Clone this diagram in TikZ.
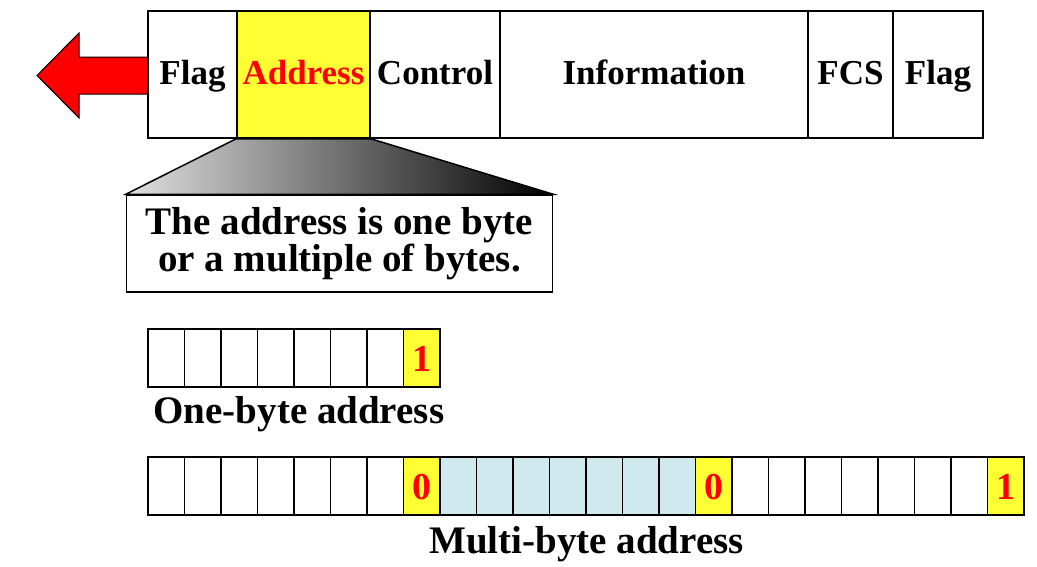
\documentclass[tikz,border=0pt]{standalone}
\usepackage{fontspec}
\setmainfont{Liberation Serif}
\usepackage{xcolor}
\usepackage{tikz}
\definecolor{hiyellow}{HTML}{FFFF33}
\definecolor{hired}{HTML}{FF0000}
\definecolor{hiblue}{HTML}{CFE9EF}

\begin{document}
\begin{tikzpicture}[x=1pt,y=-1pt,
    field/.style={draw, line width=1.5pt, inner sep=0pt, minimum height=127pt,
        text height=26pt, text depth=6pt,
        font=\fontsize{35}{40}\selectfont\bfseries},
    cell/.style={draw, line width=1.5pt, inner sep=0pt, minimum width=36.5pt,
        minimum height=58pt, text height=26pt, text depth=0pt,
        font=\fontsize{38}{40}\selectfont\bfseries, text=hired},
    bigtext/.style={font=\fontsize{39}{35}\selectfont\bfseries}]
        \useasboundingbox (0,0) rectangle (1037,566);
        % arrow out of the frame
        \draw[fill=hired, line width=1pt, line join=miter] (148,57) -- (79,57) -- (79,33) -- (37,75.5)
            -- (79,118) -- (79,94) -- (148,94);
        % the frame
        \node[field, minimum width=89pt] (flagA) at (192.5,74.5) {Flag};
        \node[field, minimum width=133pt, fill=hiyellow, text=hired] (addr) at (303.5,74.5) {Address};
        \node[field, minimum width=130pt] (ctrl) at (435,74.5) {Control};
        \node[field, minimum width=308pt] (info) at (654,74.5) {Information};
        \node[field, minimum width=85pt] (fcs) at (850.5,74.5) {FCS};
        \node[field, minimum width=90pt] (flagB) at (938,74.5) {Flag};
        % note under the address field
        \node[draw, line width=1.5pt, minimum width=426pt, minimum height=97pt, align=center,
            bigtext] (note) at (339.5,243.5) {The address is one byte\\or a multiple of bytes.};
        \shadedraw[left color=white!88!black, right color=black, line width=1.5pt]
            (addr.south west) -- (addr.south east) -- (note.north east) -- (note.north west) -- cycle;
        % one-byte address
        \foreach \i in {0,...,6}
            \node[cell] (one\i) at (166.25+36.5*\i,358) {};
        \node[cell, fill=hiyellow] (one7) at (166.25+36.5*7,358) {1};
        \node[bigtext, anchor=base west] (onelbl) at (150,423) {One-byte address};
        % multi-byte address
        \foreach \i in {0,...,6,16,17,...,22}
            \node[cell] (multi\i) at (166.25+36.5*\i,486) {};
        \foreach \i in {8,...,14}
            \node[cell, fill=hiblue] (multi\i) at (166.25+36.5*\i,486) {};
        \node[cell, fill=hiyellow] (multi7) at (166.25+36.5*7,486) {0};
        \node[cell, fill=hiyellow] (multi15) at (166.25+36.5*15,486) {0};
        \node[cell, fill=hiyellow] (multi23) at (166.25+36.5*23,486) {1};
        \node[bigtext, anchor=base] (multilbl) at (586.5,553) {Multi-byte address};
    \end{tikzpicture}
\end{document}
